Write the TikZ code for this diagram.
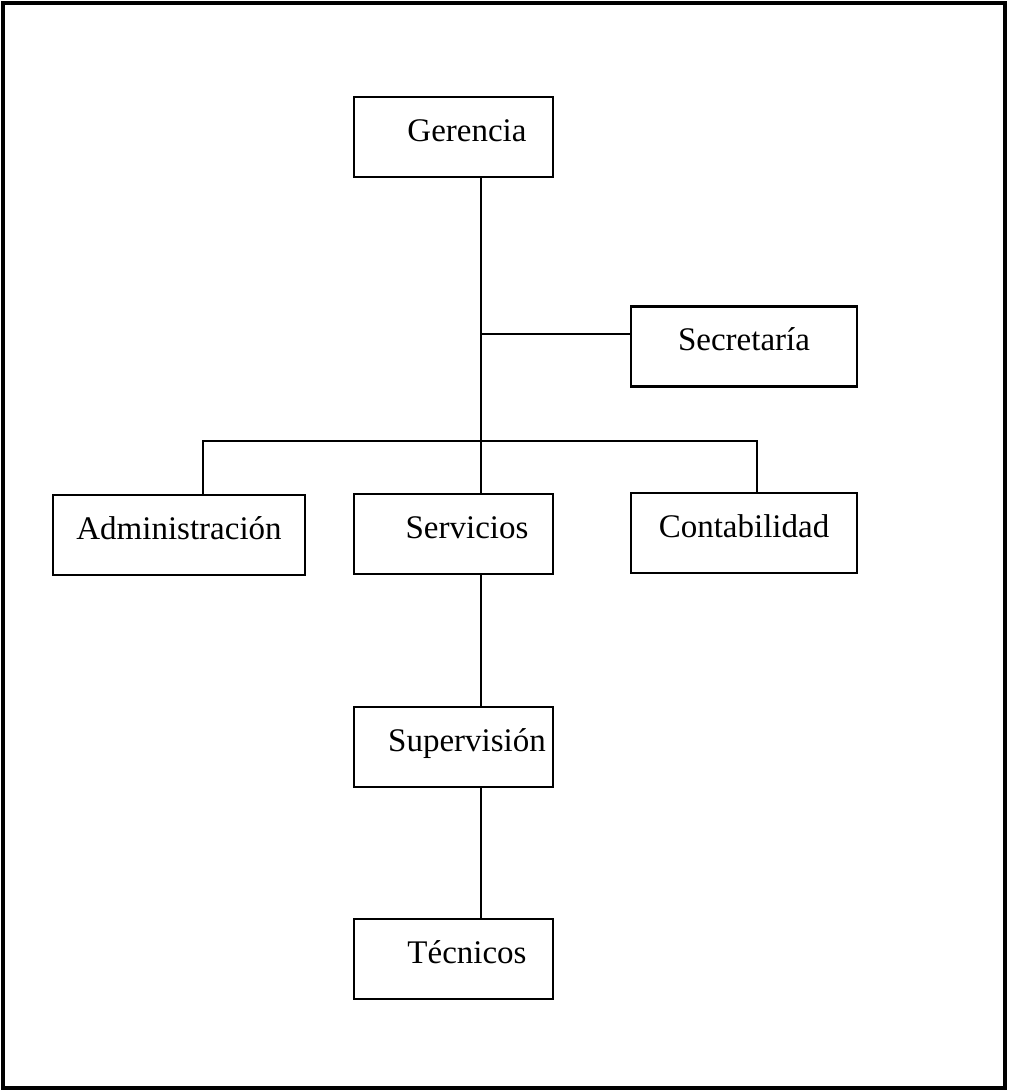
\documentclass[tikz,border=0pt]{standalone}
\usepackage{fontspec}
\setmainfont{Liberation Serif}
\usepackage{tikz}
\usetikzlibrary{positioning, calc}
\tikzset{
    unidad/.style={draw, line width=1.3pt, inner sep=0pt, minimum height=40pt,
                   text height=0.75em, text depth=0.3em,
                   font=\fontsize{16.5}{20}\selectfont},
    lateral/.style={unidad, minimum width=113pt},
    centro/.style={unidad, minimum width=99.5pt,
                   execute at begin node={\hspace*{13.5pt}}},
    enlace/.style={line width=1.2pt}
}

\begin{document}
\begin{tikzpicture}[x=0.5pt, y=-0.5pt]
    \useasboundingbox (0,0) rectangle (1008,1090);
    % Outer frame
    \draw[line width=1.8pt] (3,3) rectangle (1005,1088);
    % Units
    \node[centro] (ger) at (453.5,137) {Gerencia};
    \node[lateral] (sec) at (744,346.5) {Secretaría};
    \node[unidad, minimum width=126pt] (adm) at (179,535) {Administración};
    \node[centro] (ser) at (453.5,534) {Servicios};
    \node[lateral] (con) at (744,533) {Contabilidad};
    \node[centro] (sup) at (453.5,747) {Supervisión};
    \node[centro] (tec) at (453.5,959) {Técnicos};
    % Branch points
    \coordinate (eje) at (481,0);
    \coordinate (ramal) at (481,334);
    \coordinate (bajaA) at (203,441);
    \coordinate (bajaC) at (757,441);
    % Connectors
    \draw[enlace] (ger.south -| eje) -- (ser.north -| eje);
    \draw[enlace] (ramal) -- (ramal -| sec.west);
    \draw[enlace] (bajaA |- adm.north) -- (bajaA) -- (bajaC) -- (bajaC |- con.north);
    \draw[enlace] (ser.south -| eje) -- (sup.north -| eje);
    \draw[enlace] (sup.south -| eje) -- (tec.north -| eje);
\end{tikzpicture}
\end{document}
